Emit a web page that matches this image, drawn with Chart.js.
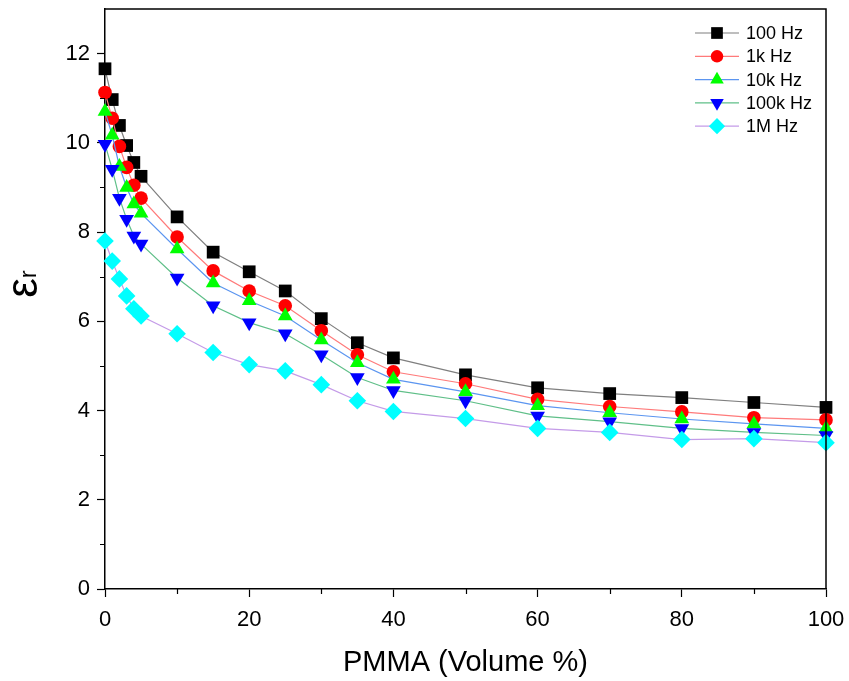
<!DOCTYPE html>
<html><head><meta charset="utf-8">
<script src="https://cdn.jsdelivr.net/npm/chart.js@4.4.1/dist/chart.umd.min.js"></script>
<style>html,body{margin:0;padding:0;background:#fff;}#wrap{width:849px;height:681px;position:relative;}</style>
</head><body><div id="wrap"><canvas id="c" width="849" height="681"></canvas></div>
<script>
const pmma = [0,1,2,3,4,5,10,15,20,25,30,35,40,50,60,70,80,90,100];
const hz100 = [11.66,10.97,10.39,9.94,9.56,9.25,8.34,7.55,7.11,6.68,6.06,5.52,5.18,4.80,4.51,4.38,4.29,4.18,4.07];
const hz1k = [11.13,10.55,9.92,9.45,9.05,8.76,7.89,7.13,6.68,6.35,5.79,5.25,4.87,4.60,4.25,4.09,3.97,3.84,3.79];
const hz10k = [10.70,10.17,9.47,9.00,8.63,8.42,7.62,6.86,6.46,6.12,5.58,5.07,4.70,4.42,4.11,3.95,3.81,3.70,3.60];
const hz100k = [9.97,9.41,8.76,8.29,7.91,7.73,6.97,6.35,5.97,5.72,5.25,4.74,4.45,4.22,3.88,3.75,3.60,3.51,3.44];
const hz1M = [7.80,7.35,6.95,6.57,6.28,6.12,5.72,5.30,5.03,4.89,4.58,4.22,3.98,3.82,3.60,3.51,3.35,3.37,3.28];
const seriesNames = ['100 Hz','1k Hz','10k Hz','100k Hz','1M Hz'];
const yTicks = [0,2,4,6,8,10,12];
const yMinorTicks = [1,3,5,7,9,11];
const xTicks = [0,20,40,60,80,100];
const xMinorTicks = [10,30,50,70,90];
const xTitle = 'PMMA (Volume %)';

const FONT = '"Liberation Sans", Arial, sans-serif';
const seriesValues = [hz100, hz1k, hz10k, hz100k, hz1M];
const lineColors = ['#7f7f7f','#ff7a7a','#5b95f0','#5fbf88','#c49be8'];
const markColors = ['#000000','#ff0000','#00ff00','#0000ff','#00ffff'];
const styles = ['rect','circle','triangle','triangle','rectRot'];
const rotations = [0,0,0,180,0];
const radii = [9,6.8,8.5,8.5,8.8];

const datasets = seriesValues.map((vals,i)=>({
  label: seriesNames[i],
  data: pmma.map((x,j)=>({x:x, y:vals[j]})),
  borderColor: lineColors[i],
  borderWidth: 1.2,
  backgroundColor: markColors[i],
  pointBackgroundColor: markColors[i],
  pointBorderColor: markColors[i],
  pointBorderWidth: 0,
  pointStyle: styles[i],
  pointRotation: rotations[i],
  pointRadius: radii[i],
  tension: 0,
  clip: false,
  order: 4 - i
}));

const decor = {
  id: 'decor',
  afterDraw(chart){
    const ctx = chart.ctx, a = chart.chartArea;
    const xs = chart.scales.x, ys = chart.scales.y;
    ctx.save();
    ctx.strokeStyle = '#000'; ctx.lineWidth = 1.5;
    ctx.beginPath();
    ctx.moveTo(a.left, a.top); ctx.lineTo(a.right, a.top); ctx.lineTo(a.right, a.bottom);
    ctx.stroke();
    ctx.lineWidth = 1.2;
    ctx.beginPath();
    yMinorTicks.forEach(v=>{ const p = Math.round(ys.getPixelForValue(v)) + 0.5; ctx.moveTo(a.left - 5, p); ctx.lineTo(a.left, p); });
    xMinorTicks.forEach(v=>{ const p = Math.round(xs.getPixelForValue(v)) + 0.5; ctx.moveTo(p, a.bottom); ctx.lineTo(p, a.bottom + 5); });
    ctx.stroke();
    // y axis title: epsilon with subscript r
    ctx.translate(37, 284);
    ctx.rotate(-Math.PI/2);
    ctx.fillStyle = '#000';
    ctx.textBaseline = 'alphabetic';
    ctx.font = '44px ' + FONT;
    const w1 = ctx.measureText('ε').width;
    ctx.font = '24px ' + FONT;
    const w2 = ctx.measureText('r').width;
    const start = -(w1 + w2) / 2;
    ctx.font = '44px ' + FONT;
    ctx.fillText('ε', start, 0);
    ctx.font = '24px ' + FONT;
    ctx.fillText('r', start + w1, -1);
    ctx.restore();
    // legend
    ctx.save();
    const x0 = a.right - 131;
    chart.data.datasets.forEach((ds,i)=>{
      const y = a.top + 24 + i*23.3;
      ctx.strokeStyle = ds.borderColor; ctx.lineWidth = 1.2;
      ctx.beginPath(); ctx.moveTo(x0, y); ctx.lineTo(x0 + 44, y); ctx.stroke();
      ctx.fillStyle = ds.pointBackgroundColor; ctx.strokeStyle = ds.pointBorderColor;
      Chart.helpers.drawPoint(ctx, {pointStyle: ds.pointStyle, radius: ds.pointRadius * 0.92, rotation: ds.pointRotation, borderWidth: 0}, x0 + 22, y);
      ctx.fillStyle = '#000';
      ctx.font = '18px ' + FONT;
      ctx.textBaseline = 'middle'; ctx.textAlign = 'left';
      ctx.fillText(ds.label, x0 + 51, y + 1);
    });
    ctx.restore();
  }
};

new Chart(document.getElementById('c'), {
  type: 'line',
  data: { datasets },
  options: {
    responsive: false,
    animation: false,
    events: [],
    devicePixelRatio: 1,
    layout: { padding: { left: 0, right: 23, top: 8, bottom: 0 } },
    plugins: { legend: { display: false }, tooltip: { enabled: false } },
    scales: {
      x: {
        type: 'linear', min: 0, max: 100,
        afterBuildTicks: s => { s.ticks = xTicks.map(v=>({value:v})); },
        ticks: { color: '#000', font: { family: FONT, size: 22 }, padding: 10, maxRotation: 0 },
        grid: { drawOnChartArea: false, drawTicks: true, tickLength: 8, tickColor: '#000', tickWidth: 1.2 },
        border: { display: true, color: '#000', width: 1.5 },
        title: { display: true, text: xTitle, color: '#000', font: { family: FONT, size: 29 }, padding: { top: 0, bottom: 1 } },
        afterFit: s => { s.height = 92; s.paddingLeft = 0; s.paddingRight = 0; }
      },
      y: {
        type: 'linear', min: 0, max: 13,
        afterBuildTicks: s => { s.ticks = yTicks.map(v=>({value:v})); },
        ticks: { color: '#000', font: { family: FONT, size: 22 }, padding: 7 },
        grid: { drawOnChartArea: false, drawTicks: true, tickLength: 8, tickColor: '#000', tickWidth: 1.2 },
        border: { display: true, color: '#000', width: 1.5 },
        afterFit: s => { s.width = 105; s.paddingTop = 0; s.paddingBottom = 0; }
      }
    }
  },
  plugins: [decor]
});
</script>
</body></html>
